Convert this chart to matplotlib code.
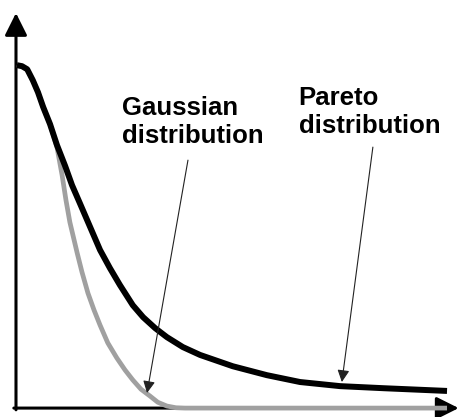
import matplotlib.pyplot as plt

# curve values (x in 0..10, y in 0..1)
pareto_x = [0.02, 0.14, 0.26, 0.39, 0.51, 0.63, 0.79, 0.95, 1.14, 1.30, 1.48, 1.72,
            1.95, 2.18, 2.41, 2.71, 2.95, 3.23, 3.50, 3.87, 4.27, 5.03, 5.82, 6.59,
            7.52, 8.52, 10.0]
pareto_y = [1.0, 0.997, 0.988, 0.956, 0.921, 0.878, 0.828, 0.767, 0.706, 0.650, 0.598, 0.528,
            0.461, 0.408, 0.359, 0.300, 0.265, 0.233, 0.207, 0.178, 0.155, 0.122, 0.096, 0.076,
            0.064, 0.058, 0.050]

gauss_x = [0.02, 0.14, 0.26, 0.39, 0.51, 0.63, 0.79, 0.95, 1.07, 1.16, 1.25, 1.42,
           1.53, 1.67, 1.81, 1.95, 2.13, 2.34, 2.53, 2.71, 2.90, 3.11, 3.29, 3.50,
           3.71, 3.92, 10.0]
gauss_y = [1.0, 0.997, 0.988, 0.956, 0.921, 0.878, 0.828, 0.761, 0.679, 0.606, 0.542, 0.452,
           0.397, 0.335, 0.286, 0.242, 0.190, 0.146, 0.111, 0.082, 0.055, 0.035, 0.017, 0.006,
           0.001, 0.0, 0.0]

labels = ["Gaussian\ndistribution", "Pareto\ndistribution"]
label_pos = [(2.46, 0.773), (6.56, 0.802)]
arrow_from = [(3.99, 0.723), (8.28, 0.761)]
arrow_to = [(3.04, 0.044), (7.56, 0.076)]

plt.rcParams['font.family'] = ['Liberation Sans', 'DejaVu Sans']

fig = plt.figure(figsize=(4.59, 4.17), dpi=100)
ax = fig.add_axes([0, 0, 1, 1])
ax.set_xlim(-0.371, 10.278)
ax.set_ylim(-0.026, 1.190)
ax.axis('off')

# axes with arrow heads
ax.annotate('', xy=(10.27, 0), xytext=(-0.05, 0),
            arrowprops=dict(arrowstyle='-|>', lw=2.2, color='black',
                            mutation_scale=34, shrinkA=0, shrinkB=0), annotation_clip=False)
ax.annotate('', xy=(0, 1.152), xytext=(0, -0.005),
            arrowprops=dict(arrowstyle='-|>', lw=2.2, color='black',
                            mutation_scale=34, shrinkA=0, shrinkB=0), annotation_clip=False)

ax.plot(gauss_x, gauss_y, color='#a0a0a0', lw=3.4, solid_capstyle='butt',
        solid_joinstyle='round', zorder=3)
ax.plot(pareto_x, pareto_y, color='black', lw=4.3, solid_capstyle='butt',
        solid_joinstyle='round', zorder=4)

for lab, (tx, ty), p0, p1 in zip(labels, label_pos, arrow_from, arrow_to):
    first, second = lab.split("\n")
    ax.text(tx, ty + 28 / 343, first, fontsize=18.5, fontweight='bold', va='baseline', ha='left')
    ax.text(tx, ty, second, fontsize=18.5, fontweight='bold', va='baseline', ha='left')
    ax.annotate('', xy=p1, xytext=p0,
                arrowprops=dict(arrowstyle='-|>', lw=0.8, color='#222222',
                                mutation_scale=18, shrinkA=0, shrinkB=0), zorder=5)

fig.savefig('out.png', dpi=100)
